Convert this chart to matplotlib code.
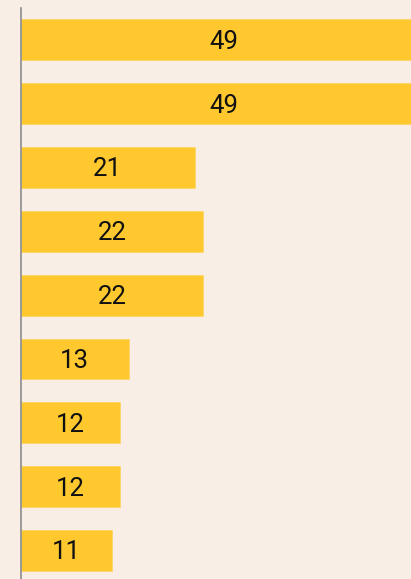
import matplotlib.pyplot as plt
import numpy as np

# data, top to bottom
values = [49, 49, 21, 22, 22, 13, 12, 12, 11]
labels = [str(v) for v in values]

bg = '#F9EEE5'
bar_color = '#FEC82E'

fig = plt.figure(figsize=(4.11, 5.79), dpi=100, facecolor=bg)
ax = fig.add_axes([20.5 / 411, -3.4 / 579, 390.5 / 411, 574.4 / 579])
ax.set_facecolor(bg)

y = np.arange(len(values))
bars = ax.barh(y, values, height=0.64, color=bar_color,
               edgecolor='#FDD666', linewidth=0.6)

for bar, lab in zip(bars, labels):
    ax.text(bar.get_width() / 2, bar.get_y() + bar.get_height() / 2 + 0.03, lab,
            ha='center', va='center', fontsize=18.5, family='Roboto',
            color='#111111')

ax.set_xlim(0, 47)
ax.set_ylim(len(values) - 0.5, -0.5)

for s in ['top', 'right', 'bottom']:
    ax.spines[s].set_visible(False)
ax.spines['left'].set_color('#8C8C8C')
ax.spines['left'].set_linewidth(1.2)
ax.set_xticks([])
ax.set_yticks([])

fig.savefig('out.png', dpi=100, facecolor=bg)
